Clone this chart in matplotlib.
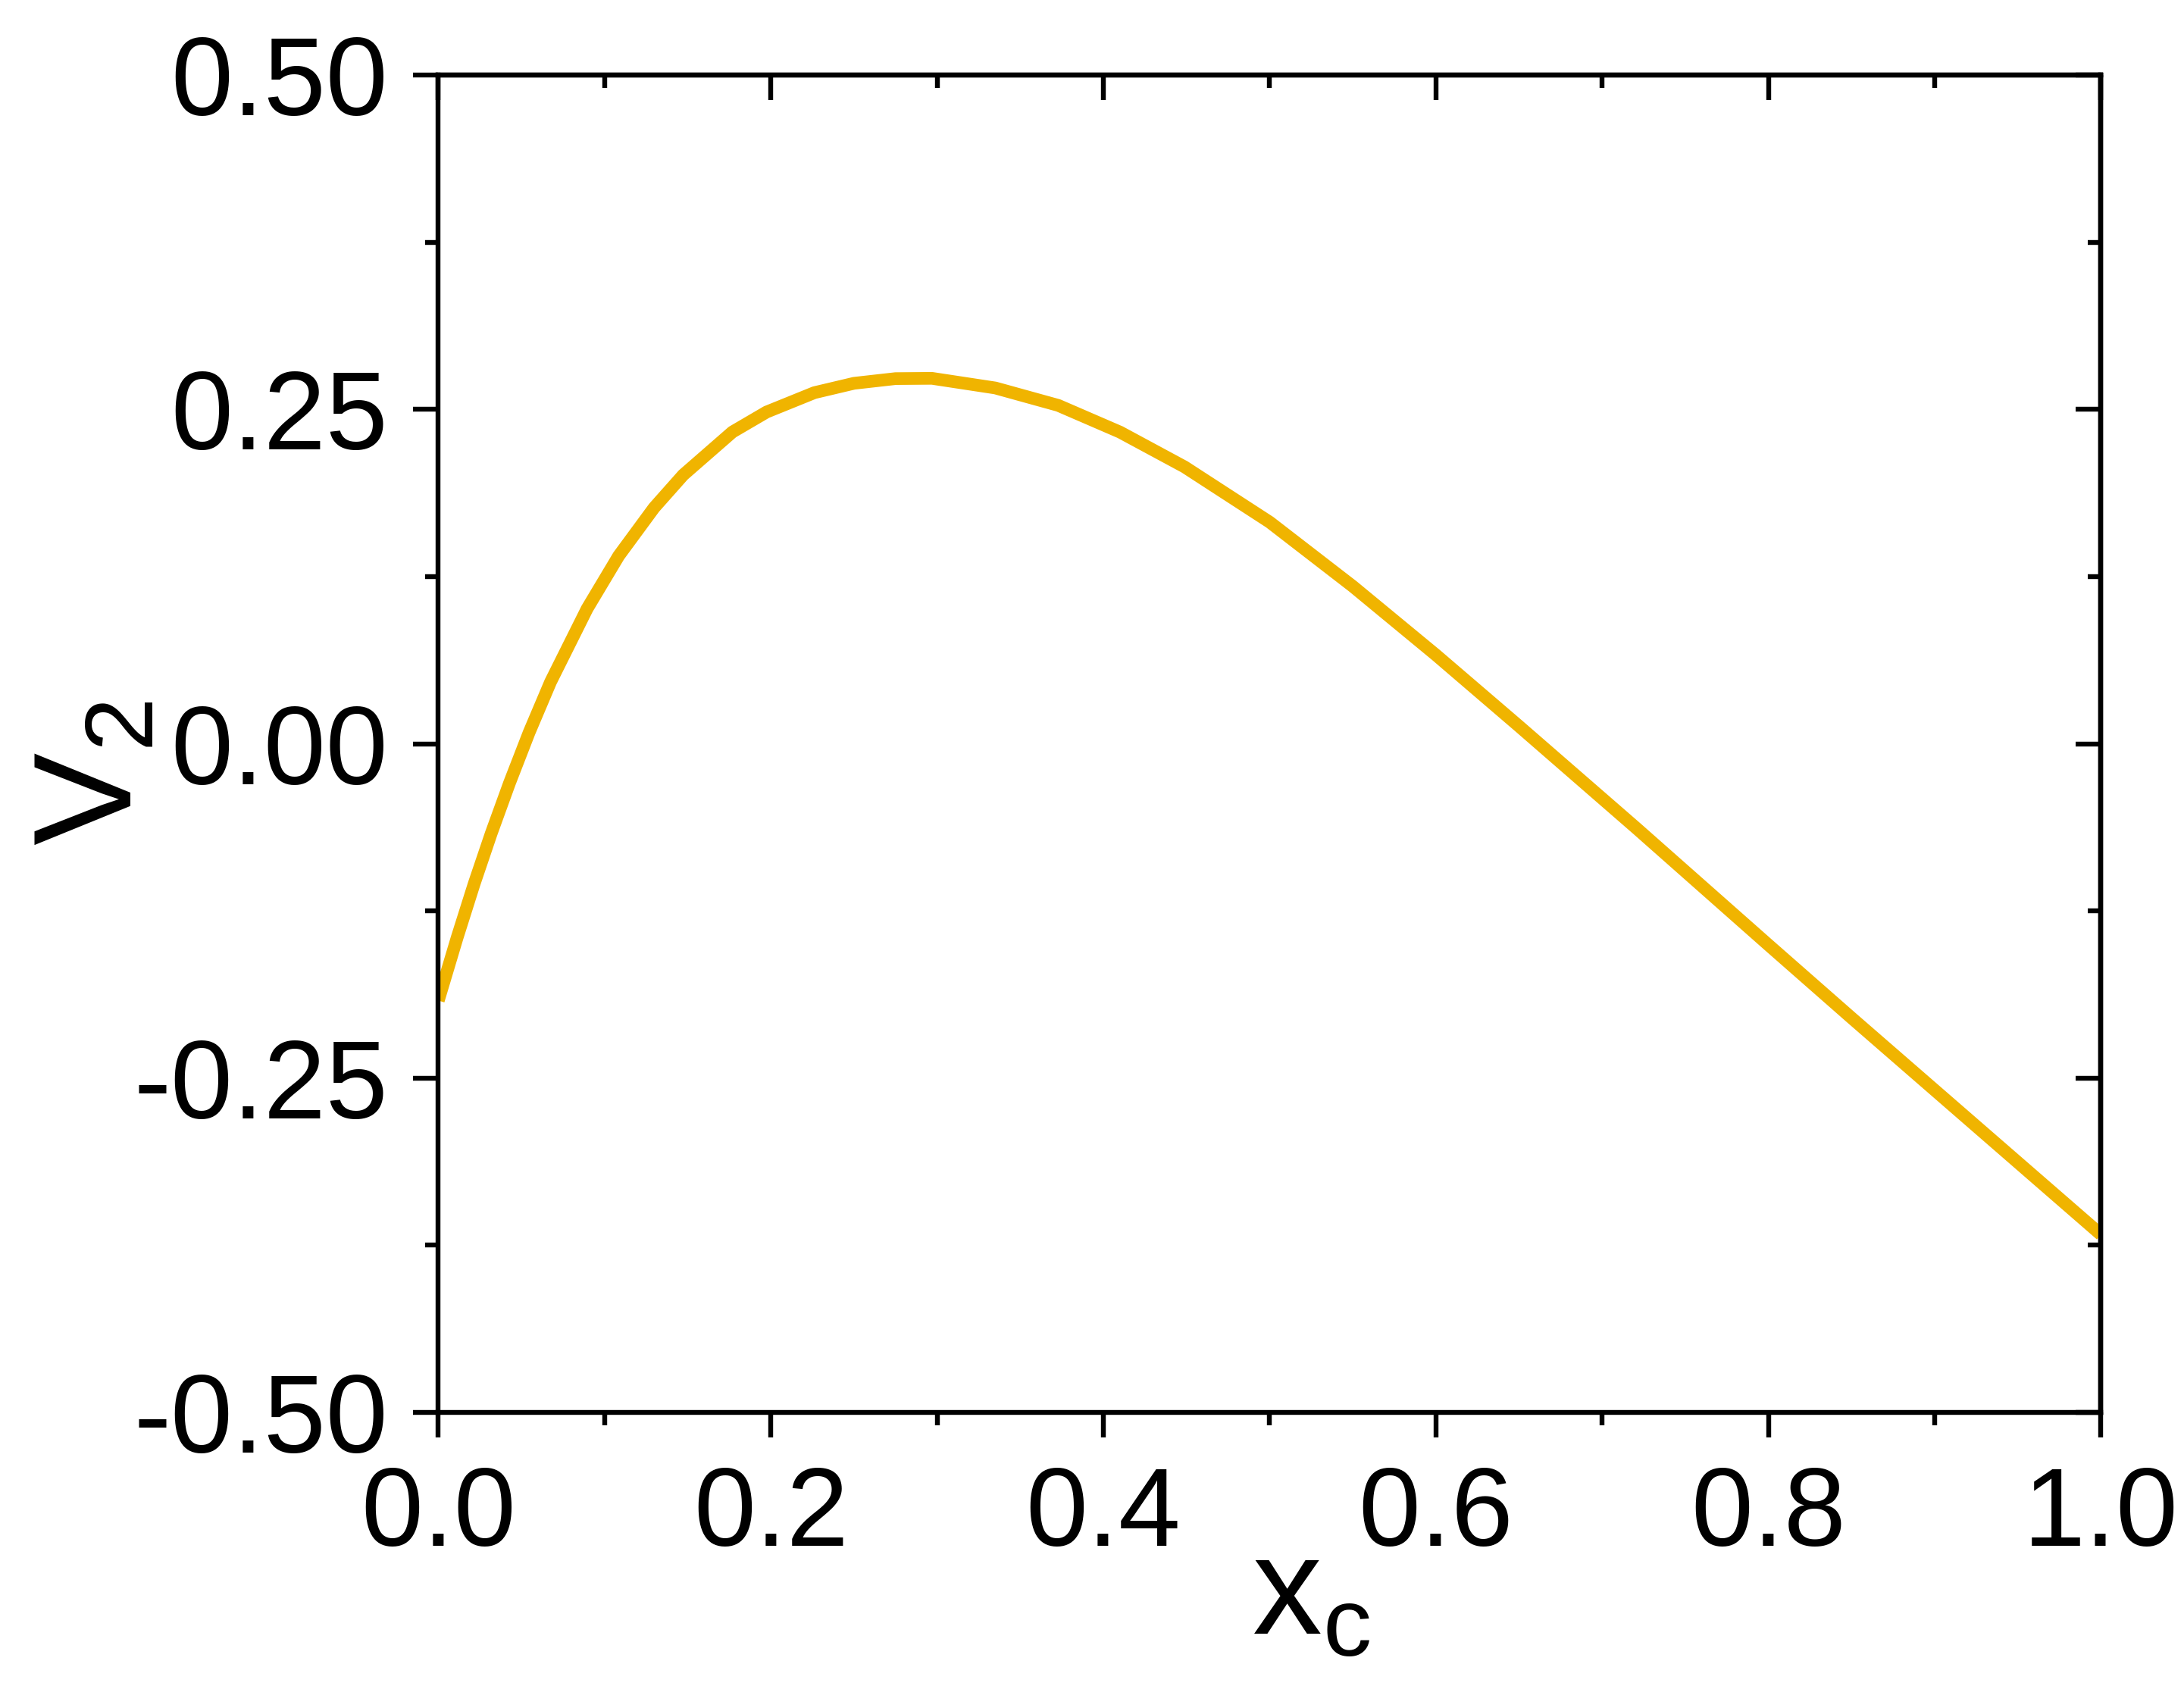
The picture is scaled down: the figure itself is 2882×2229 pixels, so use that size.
import numpy as np
import matplotlib
matplotlib.use('Agg')
import matplotlib.pyplot as plt
from matplotlib.ticker import MultipleLocator

# 폰트 설정 (Arial 대신 Liberation Sans)
plt.rcParams['font.family'] = ['Liberation Sans', 'DejaVu Sans']
plt.rcParams['mathtext.fontset'] = 'custom'
plt.rcParams['mathtext.rm'] = 'Liberation Sans'
plt.rcParams['mathtext.it'] = 'Liberation Sans'

# 데이터
xc = [0.0, 0.0113, 0.0215, 0.0318, 0.0428, 0.0546, 0.0675, 0.0895, 0.1085, 0.1298,
      0.1473, 0.1769, 0.1974, 0.2262, 0.25, 0.275, 0.2969, 0.335, 0.3728, 0.41,
      0.4488, 0.50, 0.55, 0.60, 0.65, 0.7207, 0.7996, 0.85, 0.9, 0.95, 1.0]
v2 = [-0.192, -0.145, -0.1049, -0.0671, -0.0294, 0.0084, 0.0462, 0.101, 0.1405, 0.1765,
      0.201, 0.2331, 0.248, 0.2625, 0.2695, 0.273, 0.2732, 0.266, 0.253, 0.233,
      0.207, 0.1657, 0.1177, 0.0664, 0.0131, -0.0633, -0.150, -0.205, -0.259, -0.313, -0.367]

x_ticks = [0.0, 0.2, 0.4, 0.6, 0.8, 1.0]
x_labels = ['0.0', '0.2', '0.4', '0.6', '0.8', '1.0']
y_ticks = [-0.5, -0.25, 0.0, 0.25, 0.5]
y_labels = ['-0.50', '-0.25', '0.00', '0.25', '0.50']

fig = plt.figure(figsize=(14.41, 11.145), dpi=200)
ax = fig.add_axes([0.2007, 0.1637, 0.9620 - 0.2007, 0.9556 - 0.1637])

ax.plot(xc, v2, color='#F0B400', lw=6, solid_capstyle='butt', solid_joinstyle='round')

ax.set_xlim(0, 1.0)
ax.set_ylim(-0.5, 0.5)
ax.set_xticks(x_ticks)
ax.set_xticklabels(x_labels)
ax.set_yticks(y_ticks)
ax.set_yticklabels(y_labels)
ax.xaxis.set_minor_locator(MultipleLocator(0.1))
ax.yaxis.set_minor_locator(MultipleLocator(0.125))

for s in ax.spines.values():
    s.set_linewidth(2.3)

# 축 눈금: 아래/왼쪽은 바깥, 위/오른쪽은 안쪽
ax.tick_params(which='both', width=2.3, labelsize=53)
ax.tick_params(which='major', length=12)
ax.tick_params(which='minor', length=6)
ax.tick_params(axis='y', which='both', left=True, right=False, direction='out', pad=12)
ax.tick_params(axis='x', which='both', bottom=True, top=False, direction='out', pad=13)

sec_x = ax.secondary_xaxis('top')
sec_x.set_xticks(x_ticks)
sec_x.xaxis.set_minor_locator(MultipleLocator(0.1))
sec_x.tick_params(which='both', direction='in', width=2.3, labeltop=False)
sec_x.tick_params(which='major', length=12)
sec_x.tick_params(which='minor', length=6)
sec_x.spines['top'].set_linewidth(2.3)

sec_y = ax.secondary_yaxis('right')
sec_y.set_yticks(y_ticks)
sec_y.yaxis.set_minor_locator(MultipleLocator(0.125))
sec_y.tick_params(which='both', direction='in', width=2.3, labelright=False)
sec_y.tick_params(which='major', length=12)
sec_y.tick_params(which='minor', length=6)
sec_y.spines['right'].set_linewidth(2.3)

ax.set_xlabel(r'$\mathrm{x}_\mathrm{c}$', fontsize=66)
ax.xaxis.set_label_coords(0.525, -0.090)
ax.set_ylabel(r'$\mathrm{V}_2$', fontsize=66)
ax.yaxis.set_label_coords(-0.167, 0.478)

fig.savefig('out.png', dpi=200)
